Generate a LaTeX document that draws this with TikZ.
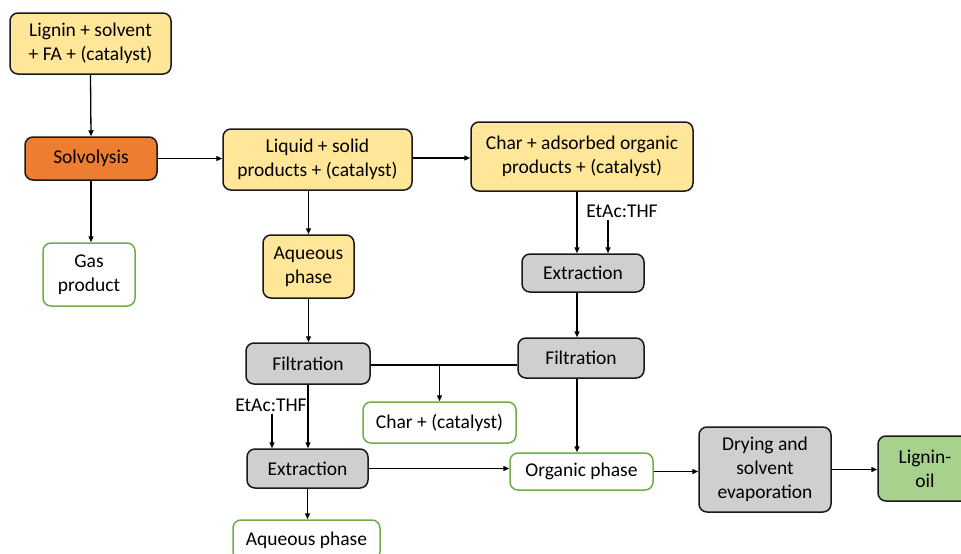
\documentclass[tikz,border=0pt]{standalone}
\usepackage{fontspec}
\setmainfont{Carlito}
\usetikzlibrary{arrows.meta}
\definecolor{yel}{HTML}{FFE699}
\definecolor{ora}{HTML}{ED7D31}
\definecolor{gry}{HTML}{D0CECE}
\definecolor{grb}{HTML}{70AD47}
\definecolor{grf}{HTML}{A9D18E}
\begin{document}
\begin{tikzpicture}[x=1pt,y=-1pt,
  every node/.style={font=\fontsize{19.5}{24}\selectfont, align=center, inner sep=0pt},
  box/.style={draw=black!90, line width=1.5pt, rounded corners=8pt},
  ybox/.style={box, fill=yel},
  obox/.style={box, fill=ora},
  gbox/.style={box, fill=gry},
  wbox/.style={box, draw=grb, fill=white},
  lbox/.style={box, fill=grf},
  arr/.style={-{Triangle[length=6pt,width=5pt]}, line width=1.3pt},
  ln/.style={line width=1.3pt}]
\useasboundingbox (0,0) rectangle (961,554);
\node[ybox, minimum width=161pt, minimum height=61pt] (lig) at (90.5,43.5) {Lignin + solvent\\+ FA + (catalyst)};
\node[obox, minimum width=132pt, minimum height=43pt] (solv) at (91,158.5) {Solvolysis};
\node[wbox, minimum width=92pt, minimum height=63pt] (gas) at (89,274.5) {Gas\\product};
\node[ybox, minimum width=189pt, minimum height=61pt] (liq) at (317.5,159.5) {Liquid + solid\\products + (catalyst)};
\node[ybox, minimum width=91pt, minimum height=63pt] (aq) at (308.5,266.5) {Aqueous\\phase};
\node[ybox, minimum width=222pt, minimum height=69pt] (chr) at (582,156.5) {Char + adsorbed organic\\products + (catalyst)};
\node[gbox, minimum width=122pt, minimum height=38pt] (ext2) at (583,273) {Extraction};
\node[gbox, minimum width=126pt, minimum height=40pt] (fil2) at (581,358) {Filtration};
\node[gbox, minimum width=124pt, minimum height=41pt] (fil1) at (308,363.5) {Filtration};
\node[wbox, minimum width=153pt, minimum height=41pt] (charc) at (439.5,422.5) {Char + (catalyst)};
\node[gbox, minimum width=121pt, minimum height=39pt] (ext1) at (307.5,468.5) {Extraction};
\node[wbox, minimum width=143pt, minimum height=37pt] (org) at (581.5,471.5) {Organic phase};
\node[gbox, minimum width=132pt, minimum height=85pt] (dry) at (765,469.5) {Drying and\\solvent\\evaporation};
\node[lbox, minimum width=94pt, minimum height=65pt] (loil) at (925,468.5) {Lignin-\\oil};
\node[wbox, minimum width=147pt, minimum height=40pt] (aq2) at (306.5,540) {Aqueous phase};
\node (etac2) at (622,211) {EtAc:THF};
\node (etac1) at (271,405) {EtAc:THF};

\draw[arr] (lig.south) -- (solv.north);
\draw[arr] (solv.south) -- (solv.south |- gas.north);
\draw[arr] (solv.east) -- (solv.east -| liq.west);
\draw[arr] ([yshift=1.5pt]liq.east) -- ([yshift=1.5pt]liq.east -| chr.west);
\draw[arr] (aq.north |- liq.south) -- (aq.north);
\draw[arr] (aq.south) -- (aq.south |- fil1.north);
\draw[arr] ([xshift=-5pt]chr.south) -- ([xshift=-6pt]ext2.north);
\draw[arr] ([xshift=-14pt,yshift=-2pt]etac2.south) -- ([xshift=25pt]ext2.north);
\draw[arr] ([xshift=-6pt]ext2.south) -- ([xshift=-4pt]fil2.north);
\draw[arr] ([xshift=-4pt]fil2.south) -- ([xshift=-4.5pt]org.north);
\draw[ln] ([yshift=-1.5pt]fil1.east) -- ([yshift=-1.5pt]fil1.east -| fil2.west);
\draw[arr] ([yshift=-1.5pt]charc.north |- fil1.east) -- (charc.north);
\draw[arr] (fil1.south) -- (fil1.south |- ext1.north);
\draw[arr] ([xshift=1pt,yshift=-2pt]etac1.south) -- ([xshift=1pt]etac1.south |- ext1.north);
\draw[arr] (ext1.east) -- (ext1.east -| org.west);
\draw[arr] (ext1.south) -- (ext1.south |- aq2.north);
\draw[arr] (org.east) -- (org.east -| dry.west);
\draw[arr] (dry.east) -- (dry.east -| loil.west);
\end{tikzpicture}
\end{document}
